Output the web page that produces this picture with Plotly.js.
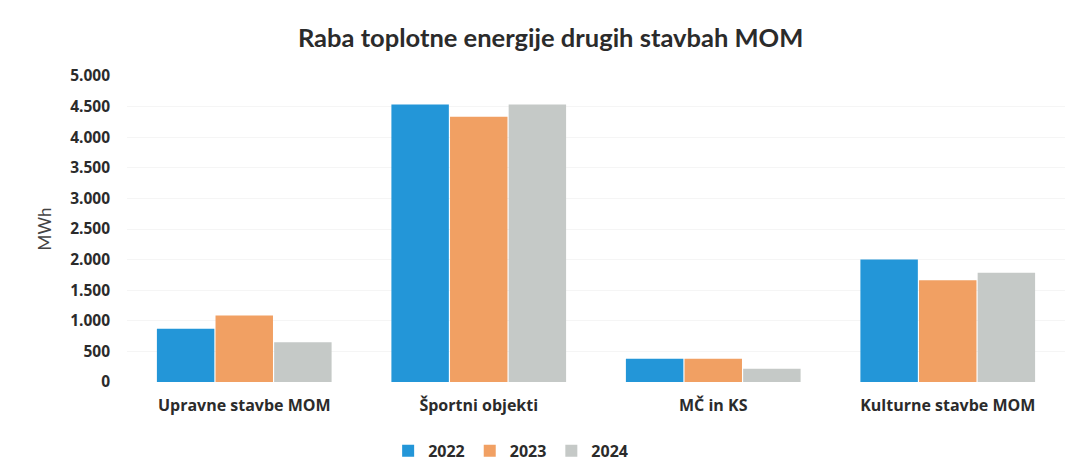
<!DOCTYPE html>
<html>
<head>
<meta charset="utf-8">
<script src="https://cdn.plot.ly/plotly-3.0.1.min.js"></script>
<style>html,body{margin:0;padding:0;background:#fff;}#chart{width:1065px;height:470px;}</style>
</head>
<body>
<div id="chart"></div>
<script>
const categories = ["Upravne stavbe MOM", "Športni objekti", "MČ in KS", "Kulturne stavbe MOM"];
const seriesNames = ["2022", "2023", "2024"];
const values2022 = [869, 4534, 379, 2002];
const values2023 = [1087, 4333, 379, 1664];
const values2024 = [650, 4534, 216, 1784];
const colors = ["#2396d8", "#f1a063", "#c5c9c7"];

const allValues = [values2022, values2023, values2024];
const TFONT = "Lato, 'Open Sans', sans-serif";
const FONT = "'Open Sans', Lato, sans-serif";

const traces = allValues.map((v, i) => ({
  type: "bar",
  name: seriesNames[i],
  x: categories,
  y: v,
  marker: { color: colors[i] },
  hoverinfo: "y+name"
}));

const layout = {
  width: 1065,
  height: 470,
  margin: { l: 127, r: 0, t: 76, b: 88 },
  paper_bgcolor: "#ffffff",
  plot_bgcolor: "#ffffff",
  separators: ",.",
  barmode: "group",
  bargap: 0.25,
  bargroupgap: 0.02,
  title: {
    text: "<b>Raba toplotne energije drugih stavbah MOM</b>",
    font: { family: TFONT, size: 25.5, color: "#2b2b2b" },
    x: 0.517, xanchor: "center",
    y: 0.92, yanchor: "middle"
  },
  xaxis: {
    tickfont: { family: FONT, size: 16, color: "#2b2b2b", weight: "bold" },
    showline: false,
    ticks: "",
    showgrid: false,
    ticklabelstandoff: 12
  },
  yaxis: {
    range: [0, 5000],
    dtick: 500,
    tickformat: ",d",
    tickfont: { family: FONT, size: 15.5, color: "#2b2b2b", weight: "bold" },
    gridcolor: "#f5f5f5",
    zeroline: false,
    ticks: "",
    ticklabelstandoff: 16,
    title: {
      text: "MWh",
      font: { family: TFONT, size: 17, color: "#444444" },
      standoff: 14
    }
  },
  legend: {
    orientation: "h",
    x: 0.409, xanchor: "center",
    y: -0.225, yanchor: "middle",
    font: { family: FONT, size: 16, color: "#2b2b2b", weight: "bold" },
    itemwidth: 30,
    traceorder: "normal"
  },
  showlegend: true
};

Plotly.newPlot("chart", traces, layout, { displayModeBar: false, staticPlot: true });
</script>
</body>
</html>
